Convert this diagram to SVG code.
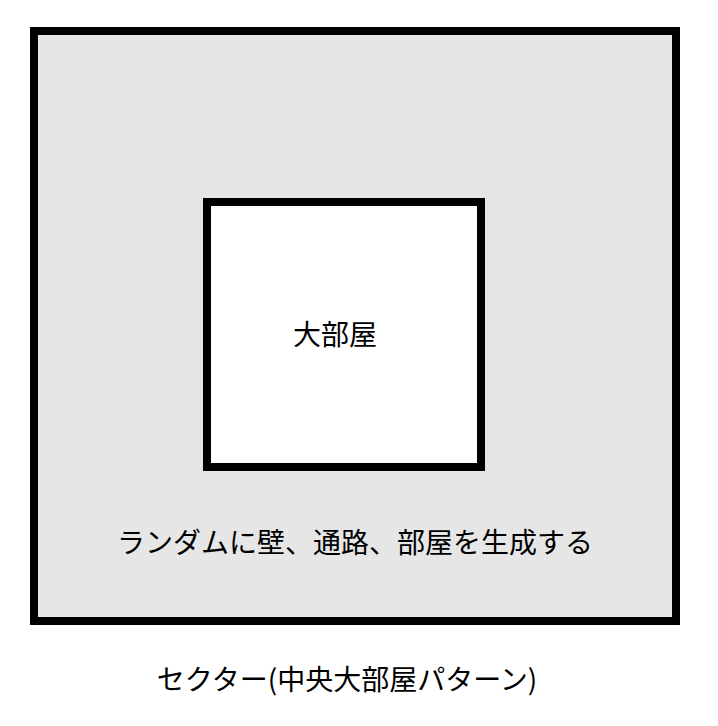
<svg xmlns="http://www.w3.org/2000/svg" width="718" height="726" viewBox="0 0 718 726">
<style>
.box{stroke:#000;stroke-width:8}
.t{font-family:"Noto Sans CJK JP","Noto Sans CJK SC",sans-serif;font-size:28px;fill:#000;text-anchor:middle}
</style>
<rect width="718" height="726" fill="#fff"/>
<g id="sector">
<rect class="box" x="34" y="31" width="642" height="590" fill="#e6e6e6"/>
<text class="t" x="355" y="553">ランダムに壁、通路、部屋を生成する</text>
</g>
<g id="big-room">
<rect class="box" x="207" y="202" width="274" height="265" fill="#fff"/>
<text class="t" x="335" y="345">大部屋</text>
</g>
<g id="connectors"/>
<g id="caption">
<text class="t" x="347" y="690">セクター(中央大部屋パターン)</text>
</g>
</svg>
